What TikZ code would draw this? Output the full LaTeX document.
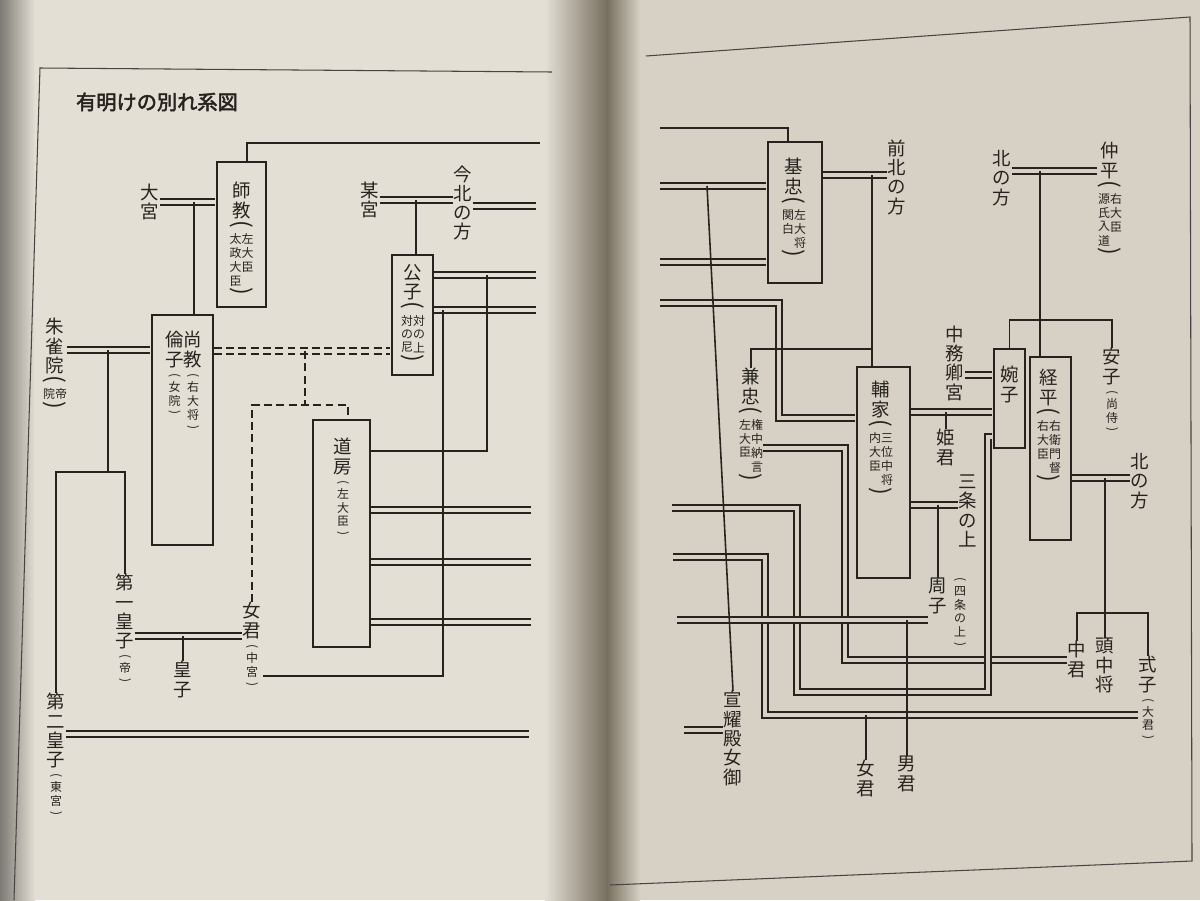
\documentclass[tikz,border=0pt]{standalone}
\usepackage{graphicx}
\usepackage{fontspec}
\setmainfont{Noto Sans CJK JP}[AutoFakeBold=2.5]
\usetikzlibrary{positioning,calc}

\definecolor{ink}{RGB}{38,35,31}
\definecolor{lpaper}{RGB}{227,223,212}
\definecolor{rpaper}{RGB}{214,209,196}
\definecolor{gutter}{RGB}{120,111,96}

\newcommand{\labelsize}{\fontsize{10.5}{11}\selectfont}
\newcommand{\notesize}{\fontsize{6.8}{7.6}\selectfont}
\newcommand{\vcol}[1]{\begin{tabular}[t]{@{}c@{}}#1\end{tabular}}
% paréntesis verticales
\newcommand{\lpr}{\rotatebox[origin=c]{-90}{(}}
\newcommand{\rpr}{\rotatebox[origin=c]{-90}{)}}
% notas entre paréntesis (dos columnas / una columna)
\newcommand{\nt}[2]{{\notesize\begin{tabular}{@{}c@{}}{\fontsize{13}{13}\selectfont\lpr}\\[-1pt]\vcol{#2}\vcol{#1}\\[-1pt]{\fontsize{13}{13}\selectfont\rpr}\end{tabular}}}
\newcommand{\nto}[1]{{\notesize\begin{tabular}{@{}c@{}}\lpr\\[-1pt]\vcol{#1}\\[-1pt]\rpr\end{tabular}}}

\begin{document}
\begin{tikzpicture}[x=0.02cm, y=-0.02cm,
    % trazos del árbol
    line/.style={draw=ink, line width=0.9pt},
    marr/.style={draw=ink, line width=0.8pt, double distance=2.4pt, shorten >=0.45pt},
    dsh/.style={dash pattern=on 4.5pt off 2.5pt},
    frame/.style={draw=ink!85, line width=0.6pt},
    % personas y rótulos
    box/.style 2 args={draw=ink, line width=0.9pt, inner sep=0pt, minimum width=#1*0.02cm, minimum height=#2*0.02cm},
    lbl/.style={font=\labelsize, text=ink, align=center, inner sep=0pt}
]
\useasboundingbox (0,0) rectangle (1200,900);

% --- Fondo: las dos páginas ---
\fill[lpaper] (0,0) rectangle (607,900);
\fill[rpaper] (607,0) rectangle (1200,900);
\shade[left color=lpaper!55!black, right color=lpaper] (0,0) rectangle (35,900);
\shade[left color=lpaper, right color=gutter] (545,0) rectangle (607,900);
\shade[left color=gutter, right color=rpaper] (607,0) rectangle (640,900);

% ================= PÁGINA IZQUIERDA =================
\begin{scope}[marr/.append style={double=lpaper}]
\draw[frame] (14,900) -- (40,68) -- (552,72);
\node[lbl, font=\fontsize{11.5}{12}\selectfont\bfseries] (title) at (157,102) {有明けの別れ系図};

% --- Personas ---
\node[box={49}{145}] (moronori) at (241.5,234.5) {};
\node[lbl, anchor=north] (moronori-t) at (241.5,182) {師\\教\\\nt{左\\大\\臣}{太\\政\\大\\臣}};
\node[lbl] (oomiya) at (150,202) {大\\宮};
\node[box={61}{230}] (masa) at (182.5,430) {};
\node[lbl, anchor=north] (masa-t) at (193,331) {尚\\教\\\nto{右\\大\\将}};
\node[lbl, anchor=north] (tomo-t) at (174.5,331) {倫\\子\\\nto{女\\院}};
\node[lbl, anchor=north] (suzaku) at (55,318) {朱\\雀\\院\\\nt{帝}{院}};
\node[lbl, anchor=north] (ichi) at (125,574) {第\\一\\皇\\子\\\nto{帝}};
\node[lbl, anchor=north] (miko) at (183,661) {皇\\子};
\node[lbl, anchor=north] (onna1) at (252,602) {女\\君\\\nto{中\\宮}};
\node[lbl, anchor=north] (ni) at (56,693) {第\\二\\皇\\子\\\nto{東\\宮}};
\node[box={57}{227}] (michi) at (341.5,533.5) {};
\node[lbl, anchor=north] (michi-t) at (343,438) {道\\房\\\nto{左\\大\\臣}};
\node[box={41}{120}] (kimi) at (412.5,315) {};
\node[lbl, anchor=north] (kimi-t) at (413,264) {公\\子\\\nt{対\\の\\上}{対\\の\\尼}};
\node[lbl] (bou) at (370,200) {某\\宮};
\node[lbl] (ima) at (463,203) {今\\北\\の\\方};

% --- Puntos de unión ---
\coordinate (eL1) at (540,143);
\coordinate (eL2) at (537,206);
\coordinate (eL3) at (537,275);
\coordinate (eL4) at (537,310);
\coordinate (eL5) at (532,510);
\coordinate (eL6) at (532,562);
\coordinate (eL7) at (532,622);
\coordinate (eL8) at (530,734);
\coordinate (oj) at (194,202);
\coordinate (sj) at (108,350);
\coordinate (sb) at (108,472);
\coordinate (ij) at (183,636);
\coordinate (bj) at (416,200);
\coordinate (dj) at (305,351);
\coordinate (dk) at (305,405);
\coordinate (kj1) at (487,275);
\coordinate (kj2) at (443,310);
\coordinate (oe) at (263,676);

% --- Matrimonios ---
\draw[marr] (oomiya.east) -- (oomiya.east -| moronori.west);
\draw[marr] (suzaku.east |- sj) -- (sj -| masa.west);
\draw[marr] (ichi.east |- ij) -- (ij -| onna1.west);
\draw[marr] (bou.east |- bj) -- (bj -| ima.west);
\draw[marr] (ima.east |- eL2) -- (eL2);
\draw[marr] (kimi.east |- eL3) -- (eL3);
\draw[marr] (kimi.east |- eL4) -- (eL4);
\draw[marr] (michi.east |- eL5) -- (eL5);
\draw[marr] (michi.east |- eL6) -- (eL6);
\draw[marr] (michi.east |- eL7) -- (eL7);
\draw[marr] (ni.east |- eL8) -- (eL8);
\draw[marr, dsh] (masa.east |- dj) -- (dj -| kimi.west);

% --- Descendencia ---
\draw[line] ([xshift=0.11cm]moronori.north) |- (eL1);
\draw[line] (oj) -- (oj |- masa.north);
\draw[line] (sj) -- (sb);
\draw[line] (ichi.north) |- (sb) -| (ni.north);
\draw[line] (ij) -- (miko.north);
\draw[line] (bj) -- (bj |- kimi.north);
\draw[line] (kj1) |- ($(michi.north east)+(0,32)$);
\draw[line] (kj2) |- (oe);
\draw[line, dsh] (dj) -- (dk);
\draw[line, dsh] (onna1.north) |- (dk) -| ($(michi.north)+(6.5,0)$);
\end{scope}

% ================= PÁGINA DERECHA =================
\begin{scope}[marr/.append style={double=rpaper}]
\draw[frame] (646,56) -- (1190,17) -- (1192,861) -- (610,885);

% --- Personas ---
\node[box={54}{141}] (motota) at (795,212.5) {};
\node[lbl, anchor=north] (motota-t) at (794,158) {基\\忠\\\nt{左\\大\\将}{関\\白}};
\node[lbl] (maekita) at (897,177) {前\\北\\の\\方};
\node[lbl, anchor=north] (kane) at (751,368) {兼\\忠\\\nt{権\\中\\納\\言}{左\\大\\臣}};
\node[box={53}{211}] (suke) at (883.5,472.5) {};
\node[lbl, anchor=north] (suke-t) at (881,381) {輔\\家\\\nt{三\\位\\中\\将}{内\\大\\臣}};
\node[lbl] (nakatsu) at (955,363) {中\\務\\卿\\宮};
\node[box={31}{99}] (tsuya) at (1009.5,398.5) {};
\node[lbl, anchor=north] (tsuya-t) at (1009.5,366) {婉\\子};
\node[box={41}{183}] (tsune) at (1050.5,448.5) {};
\node[lbl, anchor=north] (tsune-t) at (1049,369) {経\\平\\\nt{右\\衛\\門\\督}{右\\大\\臣}};
\node[lbl] (kita1) at (1002,178) {北\\の\\方};
\node[lbl, anchor=north] (nakahira) at (1110,142) {仲\\平\\\nt{右\\大\\臣}{源\\氏\\入\\道}};
\node[lbl, anchor=north] (yasu) at (1112,348) {安\\子\\\nto{尚\\侍}};
\node[lbl, anchor=north] (hime) at (946,429) {姫\\君};
\node[lbl] (sanjo) at (968,511) {三\\条\\の\\上};
\node[lbl, anchor=north] (shuu) at (938,578) {周\\子};
\node[lbl, anchor=north] (shuu-n) at (960,574) {\nto{四\\条\\の\\上}};
\node[lbl] (kita2) at (1140,481) {北\\の\\方};
\node[lbl, anchor=north] (naka) at (1077,641) {中\\君};
\node[lbl, anchor=north] (tou) at (1105,638) {頭\\中\\将};
\node[lbl, anchor=north] (shiki) at (1148,656) {式\\子\\\nto{大\\君}};
\node[lbl, anchor=north] (gyo) at (733,691) {宣\\耀\\殿\\女\\御};
\node[lbl, anchor=north] (onna2) at (866,760) {女\\君};
\node[lbl, anchor=north] (otoko) at (907,756) {男\\君};

% --- Puntos de unión ---
\coordinate (eR1) at (660,128);
\coordinate (eR2) at (660,186);
\coordinate (eR3) at (660,262);
\coordinate (eR4) at (660,303);
\coordinate (eR5) at (672,508);
\coordinate (eR6) at (673,557);
\coordinate (eR7) at (677,620);
\coordinate (eR8) at (684,730);
\coordinate (gj) at (707,186);
\coordinate (mj) at (872,175);
\coordinate (mk) at (872,349);
\coordinate (dc) at (779,418);
\coordinate (hj) at (845,660);
\coordinate (sj1) at (946,412);
\coordinate (sj2) at (938,505);
\coordinate (ec) at (797,692);
\coordinate (ej) at (988,692);
\coordinate (fc) at (765,715);
\coordinate (fj) at (866,715);
\coordinate (gj7) at (907,620);
\coordinate (nj) at (1040,171);
\coordinate (nk) at (1040,320);
\coordinate (tj) at (1105,478);
\coordinate (tk) at (1105,613);

% --- Matrimonios ---
\draw[marr] (eR2) -- (eR2 -| motota.west);
\draw[marr] (eR3) -- (eR3 -| motota.west);
\draw[marr] (eR4) -| (dc) -- (dc -| suke.west);
\draw[marr] (motota.east |- mj) -- (mj -| maekita.west);
\draw[marr] (kane.east |- 0,448) -| (hj) -- (hj -| naka.west);
\draw[marr] (suke.east |- sj1) -- (sj1 -| tsuya.west);
\draw[marr] (suke.east |- sj2) -- (sj2 -| sanjo.west);
\draw[marr] (nakatsu.east |- 0,375) -- (tsuya.west |- 0,375);
\draw[marr] (eR5) -| (ec) -- (ej) |- (tsuya.west |- 0,437);
\draw[marr] (eR6) -| (fc) -- (fc -| shiki.west);
\draw[marr] (eR7) -- (eR7 -| shuu.west);
\draw[marr] (eR8) -- (eR8 -| gyo.west);
\draw[marr] (kita1.east |- nj) -- (nj -| nakahira.west);
\draw[marr] (tsune.east |- tj) -- (tj -| kita2.west);

% --- Descendencia ---
\draw[line] (eR1) -| ([xshift=-0.14cm]motota.north);
\draw[line] (gj) -- (gyo.north);
\draw[line] (mj) -- (mj |- suke.north);
\draw[line] (mk) -| (kane.north);
\draw[line] (sj1) -- (hime.north);
\draw[line] (sj2) -- (shuu.north);
\draw[line] (fj) -- (onna2.north);
\draw[line] (gj7) -- (otoko.north);
\draw[line] (nj) -- (nj |- tsune.north);
\draw[line] (tsuya.north) |- (nk) -| (yasu.north);
\draw[line] (tj) -- (tou.north);
\draw[line] (naka.north) |- (tk) -| (shiki.north);
\end{scope}
\end{tikzpicture}
\end{document}
